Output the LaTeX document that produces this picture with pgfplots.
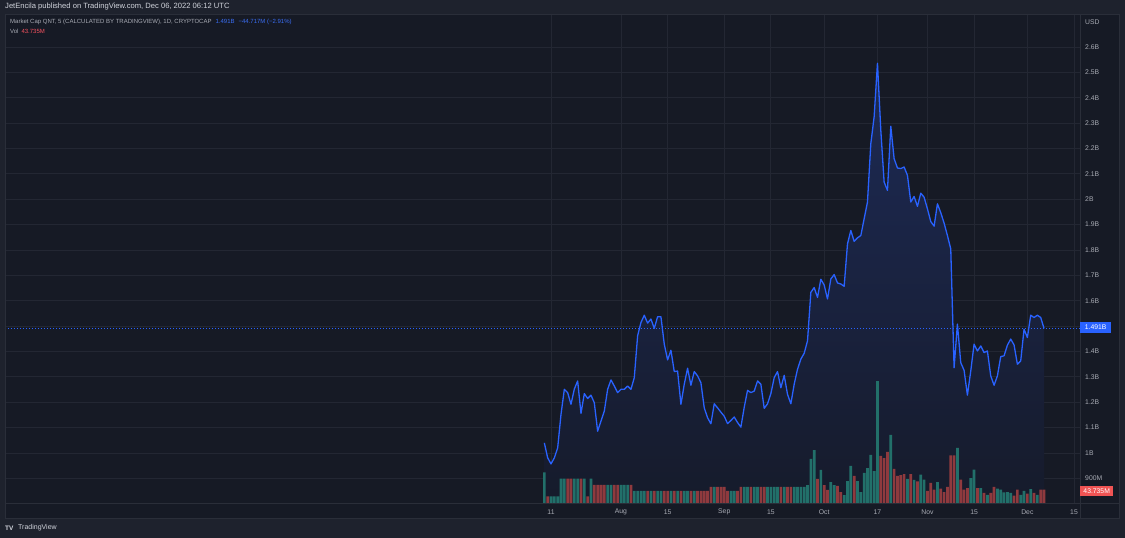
\documentclass[border=0pt]{standalone}
\usepackage{pgfplots}
\pgfplotsset{compat=1.18}
\usepackage{fontspec}
\setmainfont{Liberation Sans}
\definecolor{outerbg}{HTML}{1E222D}
\definecolor{panebg}{HTML}{161A25}
\definecolor{border}{HTML}{2A2E39}
\definecolor{gridc}{HTML}{232733}
\definecolor{tvblue}{HTML}{2962FF}
\definecolor{legblue}{HTML}{3A6EF5}
\definecolor{txtgray}{HTML}{A8ABB4}
\definecolor{txtlight}{HTML}{D1D4DC}
\definecolor{volup}{HTML}{22706A}
\definecolor{voldn}{HTML}{8F3A3E}
\definecolor{redlbl}{HTML}{F05454}
\definecolor{redtxt}{HTML}{F7525F}
\definecolor{areatop}{HTML}{1D2A55}
\definecolor{areabot}{HTML}{161B2B}

\pgfplotstableread{
d v
-2 1.040
-1 0.981
0 0.957
1 0.981
2 1.020
3 1.152
4 1.251
5 1.238
6 1.192
7 1.252
8 1.284
9 1.156
10 1.234
11 1.215
12 1.228
13 1.198
14 1.086
15 1.126
16 1.165
17 1.251
18 1.288
19 1.264
20 1.238
21 1.251
22 1.251
23 1.264
24 1.251
25 1.297
26 1.462
27 1.514
28 1.543
29 1.512
30 1.528
31 1.491
32 1.537
33 1.537
34 1.429
35 1.367
36 1.405
37 1.321
38 1.323
39 1.192
40 1.271
41 1.334
42 1.267
43 1.321
44 1.304
45 1.277
46 1.178
47 1.139
48 1.115
49 1.194
50 1.178
51 1.161
52 1.145
53 1.116
54 1.128
55 1.142
56 1.120
57 1.102
58 1.180
59 1.247
60 1.238
61 1.244
62 1.284
63 1.271
64 1.176
65 1.194
66 1.234
67 1.297
68 1.321
69 1.257
70 1.306
71 1.231
72 1.194
73 1.271
74 1.330
75 1.370
76 1.393
77 1.442
78 1.633
79 1.652
80 1.613
81 1.685
82 1.662
83 1.607
84 1.686
85 1.703
86 1.670
87 1.666
88 1.657
89 1.824
90 1.877
91 1.834
92 1.848
93 1.857
94 1.923
95 1.989
96 2.219
97 2.325
98 2.536
99 2.272
100 2.068
101 2.035
102 2.288
103 2.160
104 2.123
105 2.121
106 2.127
107 2.094
108 1.989
109 2.011
110 1.972
111 2.024
112 2.008
113 1.962
114 1.912
115 1.894
116 1.982
117 1.947
118 1.906
119 1.857
120 1.804
121 1.336
122 1.508
123 1.356
124 1.326
125 1.228
126 1.323
127 1.429
128 1.402
129 1.422
130 1.396
131 1.402
132 1.304
133 1.267
134 1.304
135 1.380
136 1.383
137 1.425
138 1.449
139 1.426
140 1.350
141 1.363
142 1.488
143 1.455
144 1.543
145 1.534
146 1.543
147 1.534
148 1.491
}\pricetable

\pgfplotstableread{
d m
-2 101
0 22
1 22
2 22
3 80
4 80
7 80
8 80
10 80
12 80
17 60
18 60
21 60
22 60
23 60
25 40
26 40
27 40
28 40
30 40
32 40
33 40
36 40
38 40
40 40
41 40
43 40
49 53
54 40
55 40
58 53
59 53
61 53
62 53
65 53
66 53
67 53
68 53
70 53
73 53
74 53
75 53
76 53
77 59
78 145
79 174
81 109
84 69
85 59
88 26
89 72
90 122
92 72
93 36
94 99
95 115
96 158
97 105
98 401
102 224
107 79
109 76
111 93
112 77
116 69
122 181
126 82
127 110
129 49
131 27
134 47
135 44
136 35
137 36
138 33
141 27
142 40
144 46
146 27
}\volup

\pgfplotstableread{
d m
-1 22
5 80
6 80
9 80
11 22
13 60
14 60
15 60
16 60
19 60
20 60
24 60
29 40
31 40
34 40
35 40
37 40
39 40
42 40
44 40
45 40
46 40
47 40
48 53
50 53
51 53
52 53
53 40
56 40
57 53
60 53
63 53
64 53
69 53
71 53
72 53
80 79
82 59
83 43
86 56
87 36
91 89
99 155
100 148
101 168
103 112
104 89
105 92
106 95
108 95
110 71
113 40
114 66
115 44
117 47
118 36
119 53
120 157
121 157
123 77
124 44
125 49
128 49
130 33
132 33
133 53
139 24
140 44
143 31
145 33
147 44
148 43.735
}\voldown

\begin{document}
\begin{tikzpicture}
\useasboundingbox (0pt,0pt) rectangle (1125pt,538pt);
\fill[outerbg] (0pt,0pt) rectangle (1125pt,538pt);
\fill[panebg] (5pt,20pt) rectangle (1119pt,524pt);

\begin{axis}[at={(5pt,35pt)}, anchor=south west, scale only axis,
  width=1075pt, height=489pt,
  xmin=-163.9, xmax=158.8, ymin=0.803, ymax=2.730,
  axis line style={draw=none}, tick style={draw=none},
  xtick={0,21,35,52,66,82,98,113,127,143,157},
  xticklabels={11,Aug,15,Sep,15,Oct,17,Nov,15,Dec,15},
  ytick={0.9,1.0,1.1,1.2,1.3,1.4,1.6,1.7,1.8,1.9,2.0,2.1,2.2,2.3,2.4,2.5,2.6},
  yticklabels={900M,1B,1.1B,1.2B,1.3B,1.4B,1.6B,1.7B,1.8B,1.9B,2B,2.1B,2.2B,2.3B,2.4B,2.5B,2.6B},
  extra y ticks={1.5}, extra y tick labels={}, extra tick style={grid=major},
  yticklabel pos=right,
  grid=major, major grid style={gridc, line width=0.9pt},
  xticklabel style={font=\fontsize{6.8}{7}\selectfont, text=txtgray, anchor=center, yshift=-9pt},
  yticklabel style={font=\fontsize{6.8}{7}\selectfont, text=txtgray, anchor=west, inner sep=0pt, xshift=5pt},
  clip=true]
  \addplot[draw=none, top color=areatop, bottom color=areabot] table[x=d, y=v] {\pricetable} \closedcycle;
  \addplot[tvblue, dash pattern=on 1pt off 2pt, line width=0.8pt] coordinates {(-163.9,1.491) (158.8,1.491)};
  \addplot[tvblue, line width=1.3pt, line join=round] table[x=d, y=v] {\pricetable};
\end{axis}

\begin{axis}[at={(5pt,35pt)}, anchor=south west, scale only axis,
  width=1075pt, height=489pt,
  xmin=-163.9, xmax=158.8, ymin=0, ymax=1609, hide axis]
  \addplot[ybar, bar width=2.7pt, bar shift=0pt, fill=volup, draw=none] table[x=d, y=m] {\volup};
  \addplot[ybar, bar width=2.7pt, bar shift=0pt, fill=voldn, draw=none] table[x=d, y=m] {\voldown};
\end{axis}

\draw[border, line width=0.9pt] (1080pt,20pt) -- (1080pt,524pt);
\draw[border, line width=0.9pt] (5pt,35pt) -- (1119pt,35pt);
\draw[border, line width=0.9pt] (5pt,20pt) rectangle (1119pt,524pt);

\node[anchor=west, text=txtgray, font=\fontsize{6.8}{7}\selectfont, inner sep=0pt] at (1085pt,516pt) {USD};
\node[anchor=west, fill=tvblue, text=white, font=\fontsize{6.8}{7}\selectfont, inner sep=0pt, minimum height=11pt, minimum width=31pt] at (1080pt,210.5pt) {1.491B};
\node[anchor=west, fill=redlbl, text=white, font=\fontsize{6.8}{7}\selectfont, inner sep=0pt, minimum height=10pt, minimum width=33pt] at (1080pt,47pt) {43.735M};

\node[anchor=west, text=txtlight, font=\fontsize{7.6}{8}\selectfont, inner sep=0pt] at (5pt,531pt) {JetEncila published on TradingView.com, Dec 06, 2022 06:12 UTC};
\node[anchor=west, font=\fontsize{6.0}{7}\selectfont, inner sep=0pt] at (10pt,516pt) {\textcolor{txtgray}{Market Cap QNT, 5 (CALCULATED BY TRADINGVIEW), 1D, CRYPTOCAP}\hspace{4pt}\textcolor{legblue}{1.491B}\hspace{4pt}\textcolor{legblue}{−44.717M (−2.91\%)}};
\node[anchor=west, font=\fontsize{6.0}{7}\selectfont, inner sep=0pt] at (10pt,507pt) {\textcolor{txtgray}{Vol}\hspace{3pt}\textcolor{redtxt}{43.735M}};

\node[anchor=west, text=txtlight, font=\fontsize{6.5}{7}\selectfont\bfseries, inner sep=0pt] at (5pt,10pt) {TV};
\node[anchor=west, text=txtlight, font=\fontsize{7}{8}\selectfont, inner sep=0pt] at (18pt,10pt) {TradingView};
\end{tikzpicture}
\end{document}
